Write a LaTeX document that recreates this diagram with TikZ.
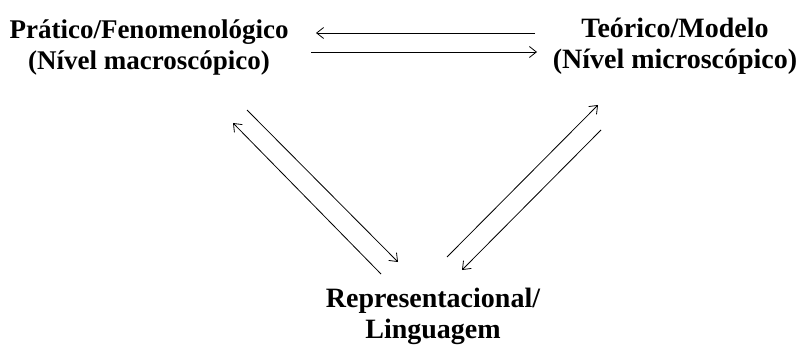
\documentclass[tikz,border=0pt]{standalone}
\usepackage{fontspec}
\setmainfont{Liberation Serif}
\usetikzlibrary{arrows.meta}
\begin{document}
\begin{tikzpicture}[x=1pt,y=-1pt,
  lbl/.style={font=\bfseries\fontsize{28}{31}\selectfont, align=center, inner sep=0pt},
  arr/.style={line width=0.8pt, -{Straight Barb[length=7pt,width=11pt,line width=0.8pt]}}]
\useasboundingbox[fill=white] (0,0) rectangle (799,347);
\node[lbl, font=\bfseries\fontsize{27}{31}\selectfont] (prat) at (149,47) {Prático/Fenomenológico\\(Nível macroscópico)};
\node[lbl] (teor) at (675,46) {Teórico/Modelo\\(Nível microscópico)};
\node[lbl] (repr) at (433,316) {Representacional/\\Linguagem};
% horizontal pair
\coordinate (h1s) at (535,33); \coordinate (h1e) at (316,33);
\coordinate (h2s) at (311,52); \coordinate (h2e) at (537,52);
\draw[arr] (h1s) -- (h1e);
\draw[arr] (h2s) -- (h2e);
% left diagonal pair
\coordinate (l1s) at (247,110); \coordinate (l1e) at (398,262);
\coordinate (l2s) at (381,274); \coordinate (l2e) at (233,123);
\draw[arr] (l1s) -- (l1e);
\draw[arr] (l2s) -- (l2e);
% right diagonal pair
\coordinate (r1s) at (447,257); \coordinate (r1e) at (598,105);
\coordinate (r2s) at (601,130); \coordinate (r2e) at (462,270);
\draw[arr] (r1s) -- (r1e);
\draw[arr] (r2s) -- (r2e);
\end{tikzpicture}
\end{document}
